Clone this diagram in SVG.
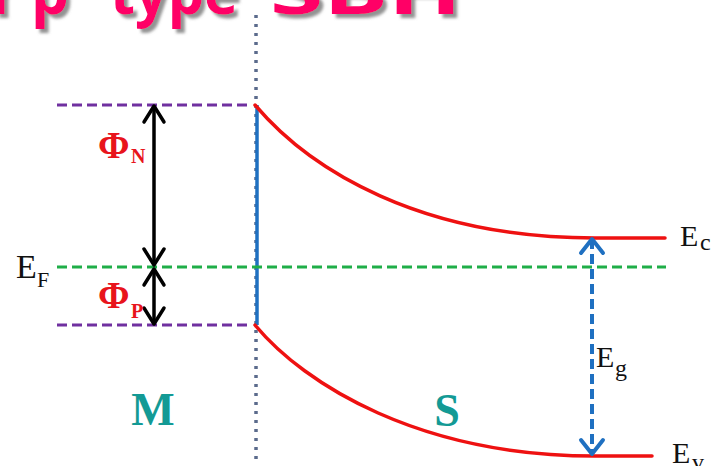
<svg xmlns="http://www.w3.org/2000/svg" width="714" height="466" viewBox="0 0 714 466">
<defs>
<style>
.title{font-family:"Open Sans","Liberation Sans",sans-serif;font-weight:700;font-size:60px;fill:#ff0066}
.lbl{font-family:"Liberation Serif","DejaVu Serif",serif;fill:#111}
.phi{font-family:"Liberation Serif","DejaVu Serif",serif;font-weight:700;fill:#e8141c}
.region{font-family:"Liberation Serif","DejaVu Serif",serif;font-weight:700;font-size:46px;fill:#139a95;text-anchor:middle}
.band{fill:none;stroke:#ee1111;stroke-width:3.5;stroke-linecap:round}
.metal{fill:none;stroke:#7030a0;stroke-width:3;stroke-dasharray:10 5}
.fermi{fill:none;stroke:#1fae48;stroke-width:3;stroke-dasharray:10 5}
</style>
<filter id="shadow" x="-10%" y="-50%" width="120%" height="200%">
<feDropShadow dx="4" dy="4" stdDeviation="1.5" flood-color="#777" flood-opacity="0.8"/>
</filter>
<marker id="chevK" viewBox="-16 -14 20 28" markerWidth="20" markerHeight="28" refX="0" refY="0" orient="auto-start-reverse" markerUnits="userSpaceOnUse" overflow="visible">
<path d="M -16 -10 L 0 0 L -16 10" fill="none" stroke="#000" stroke-width="3.5" stroke-linejoin="round" stroke-linecap="round"/>
</marker>
<marker id="chevB" viewBox="-16 -14 20 28" markerWidth="20" markerHeight="28" refX="0" refY="0" orient="auto-start-reverse" markerUnits="userSpaceOnUse" overflow="visible">
<path d="M -14 -11 L 0 0 L -14 11" fill="none" stroke="#1f70c1" stroke-width="4" stroke-dasharray="none" stroke-linejoin="round" stroke-linecap="round"/>
</marker>
</defs>

<g id="title" filter="url(#shadow)">
<text class="title" x="18" y="14" text-anchor="end">For</text>
<text class="title" x="31" y="14">p</text>
<text class="title" x="110" y="14" textLength="128" lengthAdjust="spacingAndGlyphs">type</text>
<text class="title" x="270" y="14" textLength="192" lengthAdjust="spacingAndGlyphs">SBH</text>
</g>

<g id="interface">
<line x1="256" y1="15" x2="256" y2="462" stroke="#5b6b8c" stroke-width="3.5" stroke-dasharray="3 6"/>
<line x1="257" y1="105" x2="257" y2="325" stroke="#1f70c1" stroke-width="3.5"/>
</g>

<g id="metal-levels">
<line class="metal" x1="57" y1="105" x2="252" y2="105"/>
<line class="metal" x1="57" y1="325" x2="252" y2="325"/>
</g>

<g id="fermi-level">
<line class="fermi" x1="57" y1="267" x2="666" y2="267"/>
<text class="lbl" x="16" y="278" font-size="34">E</text>
<text class="lbl" x="37" y="287" font-size="22">F</text>
</g>

<g id="conduction-band">
<path class="band" d="M 255 105 C 310 170, 420 238, 595 238 L 665 238"/>
<text class="lbl" x="680" y="246" font-size="30">E</text>
<text class="lbl" x="700" y="250" font-size="24">c</text>
</g>

<g id="valence-band">
<path class="band" d="M 255 325 C 305 385, 420 456, 595 456 L 652 456"/>
<text class="lbl" x="672" y="463" font-size="30">E</text>
<text class="lbl" x="692" y="470" font-size="24">v</text>
</g>

<g id="connectors">
<line x1="154" y1="106" x2="154" y2="265" stroke="#000" stroke-width="3.5" marker-start="url(#chevK)" marker-end="url(#chevK)"/>
<line x1="154" y1="269" x2="154" y2="324" stroke="#000" stroke-width="3.5" marker-start="url(#chevK)" marker-end="url(#chevK)"/>
<line x1="592" y1="239" x2="592" y2="454" stroke="#1f70c1" stroke-width="4" stroke-dasharray="10 5" marker-start="url(#chevB)" marker-end="url(#chevB)"/>
</g>

<g id="phi-n">
<text class="phi" x="98" y="158" font-size="38">Φ</text>
<text class="phi" x="131" y="163" font-size="20">N</text>
</g>
<g id="phi-p">
<text class="phi" x="98" y="308" font-size="38">Φ</text>
<text class="phi" x="131" y="318" font-size="20">P</text>
</g>

<g id="eg-label">
<text class="lbl" x="596" y="367" font-size="30">E</text>
<text class="lbl" x="615" y="376" font-size="24">g</text>
</g>

<g id="metal">
<text class="region" x="153" y="425">M</text>
</g>
<g id="semiconductor">
<text class="region" x="447" y="426">S</text>
</g>
</svg>
